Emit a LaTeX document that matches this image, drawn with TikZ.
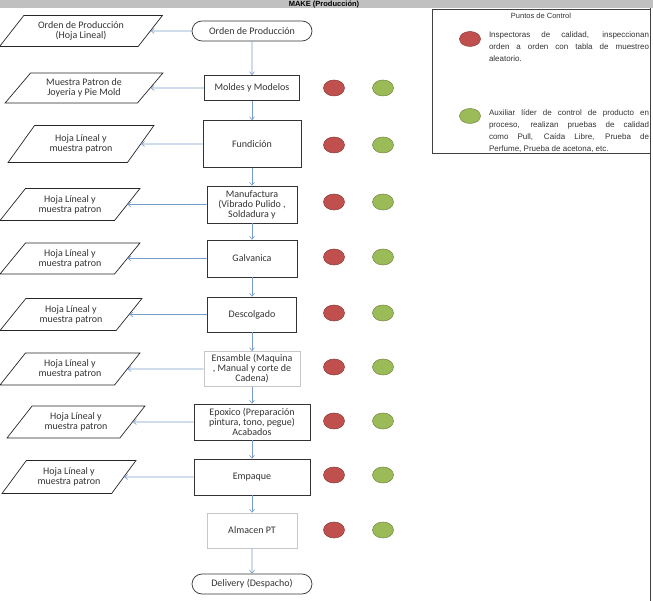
\documentclass[tikz,border=0pt]{standalone}
\usepackage{fontspec}
\setmainfont{Carlito}
\newfontfamily\arial{Liberation Sans}
\usetikzlibrary{shapes.geometric,shapes.misc,arrows.meta}

\definecolor{flecha}{HTML}{779CC8}
\definecolor{rojo}{HTML}{C0504D}
\definecolor{rojob}{HTML}{8E3B39}
\definecolor{verde}{HTML}{9BBB59}
\definecolor{verdeb}{HTML}{71893F}
\definecolor{banda}{HTML}{C0C0C0}

\tikzset{
	texto/.style={font=\fontsize{10}{10}\selectfont, text=black!80, align=center, inner sep=1pt},
	proceso/.style={texto, rectangle, draw=black!80, line width=0.7pt},
	procesoclaro/.style={proceso, draw=black!22},
	terminal/.style={texto, rounded rectangle, draw=black!80, line width=0.7pt, minimum width=122pt, minimum height=20pt},
	documento/.style={texto, trapezium, trapezium left angle=48, trapezium right angle=132, trapezium stretches=true, draw=black!85, line width=0.7pt},
	flujo/.style={draw=flecha, line width=0.6pt, -{Straight Barb[length=3pt,width=5pt]}},
	pcrojo/.style={ellipse, fill=rojo, draw=rojob, line width=0.5pt, minimum width=21pt, minimum height=16pt, inner sep=0},
	pcverde/.style={pcrojo, fill=verde, draw=verdeb},
	leyendatexto/.style={font=\arial\fontsize{8}{12}\selectfont, text=black!80, text width=160pt, align=justify, inner sep=0},
}

\begin{document}
\begin{tikzpicture}[x=1pt,y=-1pt]
	\useasboundingbox (0,0) rectangle (653,601);
	\fill[banda] (0,0) rectangle (653,8.5);
	\node[font=\arial\bfseries\fontsize{7.5}{8}\selectfont, inner sep=0] (titulo) at (324,4.5) {MAKE (Producción)};
	\draw[black!75, line width=0.7pt] (650,8.5) -- (650,601);

	\node[terminal] (inicio) at (252,31) {Orden de Producción};
	\node[proceso, minimum width=95pt, minimum height=25pt] (b1) at (252,88) {Moldes y Modelos};
	\node[proceso, minimum width=98pt, minimum height=47pt] (b2) at (252,144) {Fundición};
	\node[proceso, minimum width=90pt, minimum height=37pt] (b3) at (252,204.5) {Manufactura\\(Vibrado Pulido ,\\Soldadura y};
	\node[proceso, minimum width=90pt, minimum height=37pt] (b4) at (252,258.5) {Galvanica};
	\node[proceso, minimum width=89pt, minimum height=35pt] (b5) at (252,314.5) {Descolgado};
	\node[procesoclaro, minimum width=96pt, minimum height=35pt] (b6) at (252,369) {Ensamble (Maquina\\, Manual y corte de\\Cadena)};
	\node[proceso, minimum width=116pt, minimum height=36pt] (b7) at (252,422) {Epoxico (Preparación\\pintura, tono, pegue)\\Acabados};
	\node[proceso, minimum width=116pt, minimum height=36pt] (b8) at (252,477) {Empaque};
	\node[procesoclaro, minimum width=90pt, minimum height=35pt] (b9) at (252,530.5) {Almacen PT};
	\node[terminal] (fin) at (252,584) {Delivery (Despacho)};

	\node[documento, minimum width=163pt, minimum height=31pt] (p0) at (81,31) {Orden de Producción\\(Hoja Lineal)};
	\node[documento, minimum width=158pt, minimum height=30pt] (p1) at (84,88) {Muestra Patron de\\Joyeria y Pie Mold};
	\foreach\i/\x/\y/\w/\h in {2/81/144/146/37, 3/70/204.5/140/32, 4/70/258.5/140/31, 5/71/314.5/142/32, 6/70/369/140/32, 7/76/422/138/32, 8/69/477/134/33}{
		\node[documento, minimum width=\w pt, minimum height=\h pt] (p\i) at (\x,\y) {Hoja Líneal y\\muestra patron};
	}

	\foreach\a/\b in {inicio/b1, b1/b2, b2/b3, b3/b4, b4/b5, b5/b6, b6/b7, b7/b8, b8/b9, b9/fin}{
		\draw[flujo] (\a) -- (\b);
	}
	\draw[flujo] (inicio) -- (p0);
	\foreach\i in {1,2,...,8}{
		\draw[flujo] (b\i) -- (p\i);
	}

	\foreach\y [count=\i] in {88,145,202,257,313,367,421,475,530}{
		\node[pcrojo] (r\i) at (334,\y){};
		\node[pcverde] (g\i) at (383,\y){};
	}

	\node[draw=black!75, line width=0.7pt, minimum width=218pt, minimum height=144pt, inner sep=0] (leyenda) at (541,81) {};
	\node[font=\arial\fontsize{7.5}{9}\selectfont, text=black!80, inner sep=0] (puntos) at (541,15.5) {Puntos de Control};
	\node[pcrojo, minimum height=15pt] (rl) at (470,39) {};
	\node[pcverde, minimum height=15pt] (gl) at (470,116) {};
	\node[leyendatexto] (txtrojo) at (569,47) {Inspectoras de calidad, inspeccionan\linebreak orden a orden con tabla de muestreo\linebreak aleatorio.};
	\node[leyendatexto] (txtverde) at (569,131) {Auxiliar líder de control de producto en\linebreak proceso, realizan pruebas de calidad\linebreak como Pull, Caída Libre, Prueba de\linebreak Perfume, Prueba de acetona, etc.};
\end{tikzpicture}
\end{document}
